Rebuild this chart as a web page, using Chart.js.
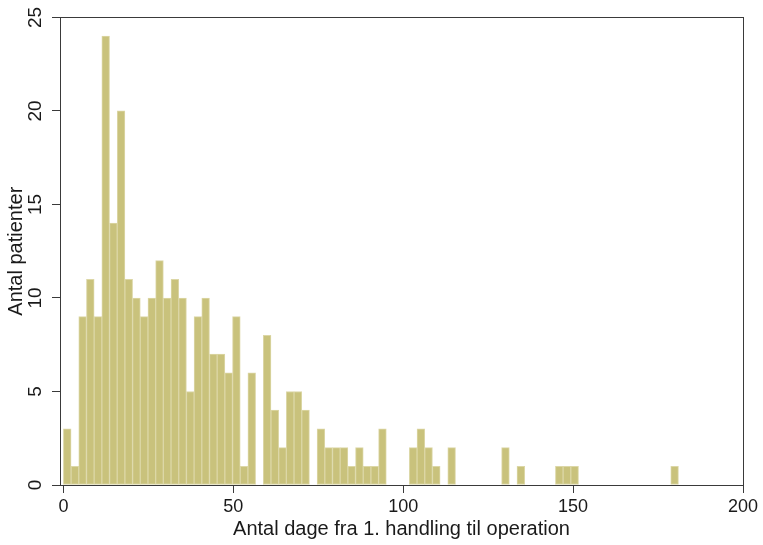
<!DOCTYPE html>
<html>
<head>
<meta charset="utf-8">
<script src="https://cdn.jsdelivr.net/npm/chart.js@4"></script>
<style>
  body { margin: 0; background: #fff; }
  #wrap { width: 763px; height: 545px; }
</style>
</head>
<body>
<div id="wrap"><canvas id="hist"></canvas></div>
<script>
// histogram: 80 bins from 0 to 181 days
var binStart = 0;
var binWidth = 181 / 80;
var counts = [3, 1, 9, 11, 9, 24, 14, 20, 11, 10,
              9, 10, 12, 10, 11, 10, 5, 9, 10, 7,
              7, 6, 9, 1, 6, 0, 8, 4, 2, 5,
              5, 4, 0, 3, 2, 2, 2, 1, 2, 1,
              1, 3, 0, 0, 0, 2, 3, 2, 1, 0,
              2, 0, 0, 0, 0, 0, 0, 2, 0, 1,
              0, 0, 0, 0, 1, 1, 1, 0, 0, 0,
              0, 0, 0, 0, 0, 0, 0, 0, 0, 1];
var xTicks = [0, 50, 100, 150, 200];
var yTicks = [0, 5, 10, 15, 20, 25];
var xTitle = 'Antal dage fra 1. handling til operation';
var yTitle = 'Antal patienter';

document.addEventListener("DOMContentLoaded", function() {
    var points = counts.map(function(c, i) {
        return { x: binStart + (i + 0.5) * binWidth, y: c };
    });

    var frame = {
        id: 'frame',
        afterDraw: function(chart) {
            var a = chart.chartArea, ctx = chart.ctx;
            ctx.save();
            ctx.strokeStyle = '#3a3a3a';
            ctx.lineWidth = 1;
            ctx.strokeRect(Math.round(a.left) + 0.5, Math.round(a.top) + 0.5,
                           Math.round(a.right - a.left), Math.round(a.bottom - a.top));
            ctx.restore();
        }
    };

    var ctx = document.getElementById("hist").getContext("2d");
    var hist = new Chart(ctx, {
        type: 'bar',
        data: {
            datasets: [{
                data: points,
                backgroundColor: '#c9c27c',
                borderColor: '#dcd7a6',
                borderWidth: 1,
                borderSkipped: false,
                barPercentage: 1,
                categoryPercentage: 1
            }]
        },
        options: {
            responsive: true,
            maintainAspectRatio: false,
            animation: false,
            layout: { padding: { top: 15, right: 20, left: 0, bottom: 0 } },
            plugins: { legend: { display: false }, tooltip: { enabled: false } },
            scales: {
                x: {
                    type: 'linear',
                    min: -1,
                    max: 200,
                    offset: false,
                    afterBuildTicks: function(s) { s.ticks = xTicks.map(function(v) { return { value: v }; }); },
                    afterFit: function(s) { s.height = 60; },
                    grid: { offset: false, drawOnChartArea: false, drawTicks: true, tickLength: 8, color: '#3a3a3a' },
                    border: { color: '#3a3a3a' },
                    ticks: { color: '#1a1a1a', padding: 3, maxRotation: 0, font: { family: 'Liberation Sans', size: 18 } },
                    title: { display: true, text: xTitle, color: '#1a1a1a', padding: { top: 0, bottom: 4 },
                             font: { family: 'Liberation Sans', size: 20 } }
                },
                y: {
                    min: 0,
                    max: 25,
                    afterBuildTicks: function(s) { s.ticks = yTicks.map(function(v) { return { value: v }; }); },
                    afterFit: function(s) { s.width = 60; },
                    grid: { drawOnChartArea: false, drawTicks: true, tickLength: 8, color: '#3a3a3a' },
                    border: { color: '#3a3a3a' },
                    ticks: { color: '#1a1a1a', padding: 6, minRotation: 90, maxRotation: 90, crossAlign: 'center',
                             font: { family: 'Liberation Sans', size: 19 } },
                    title: { display: true, text: yTitle, color: '#1a1a1a', padding: { top: 4, bottom: 0 },
                             font: { family: 'Liberation Sans', size: 20 } }
                }
            }
        },
        plugins: [frame]
    });
});
</script>
</body>
</html>
